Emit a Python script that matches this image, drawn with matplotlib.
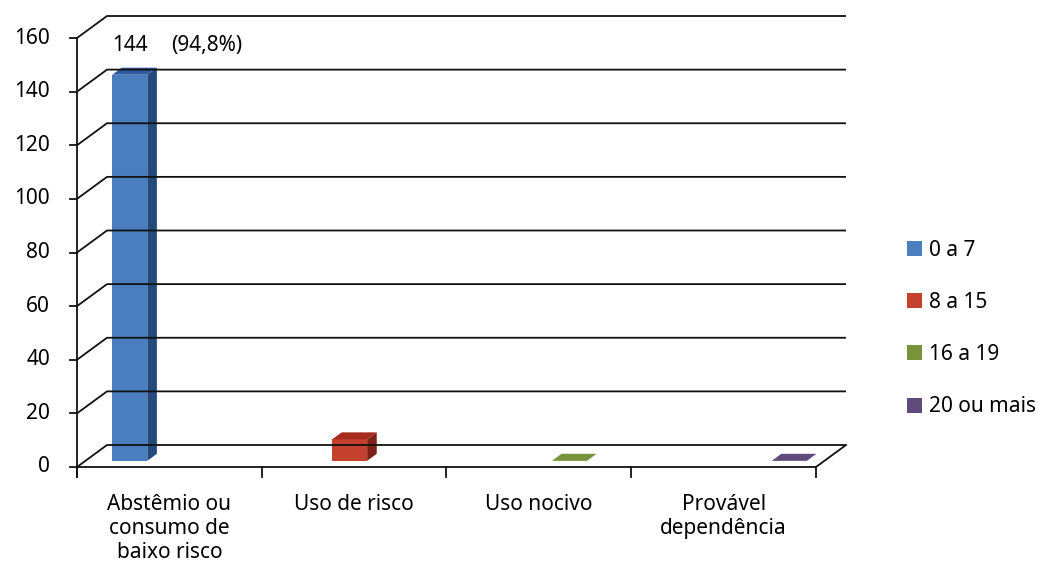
import matplotlib
matplotlib.use("Agg")
import matplotlib.pyplot as plt
from matplotlib.patches import Patch

plt.rcParams['font.family'] = ['Noto Sans', 'DejaVu Sans']

categories = ["Abstêmio ou\nconsumo de\nbaixo risco", "Uso de risco", "Uso nocivo", "Provável\ndependência"]
series_names = ["0 a 7", "8 a 15", "16 a 19", "20 ou mais"]
# one series carries a value in each category, the rest are blank
bar_values = [144, 8, 0, 0]
bar_series = [0, 1, 2, 3]
yticks = [0, 20, 40, 60, 80, 100, 120, 140, 160]
pct_label = "(94,8%)"

# front / top / side shades per series
front_cols = ["#4a7ebe", "#c5402d", "#77933c", "#604a7b"]
top_cols = ["#2f5a9e", "#a32c1e", "#77933c", "#604a7b"]
side_cols = ["#244a7c", "#7c2216", "#5a7030", "#4a3960"]

W, H = 1041, 565
PX_X = 184.75       # pixels per category
PX_Y = 429 / 160    # pixels per value unit
X0, Y0 = 77, 467    # front origin in pixels
DX = 30 / PX_X      # depth offset in data units
DY = 22 / PX_Y
FS = 15

fig = plt.figure(figsize=(W / 100, H / 100), dpi=100)
ax = fig.add_axes([0, 0, 1, 1])
ax.set_xlim(-X0 / PX_X, (W - X0) / PX_X)
ax.set_ylim(-(H - Y0) / PX_Y, Y0 / PX_Y)
ax.axis('off')


def p(x, y, z):
    return (x + z * DX, y + z * DY)


lc = '#111111'
lw = 1.3
ncat = len(categories)

# side wall + back wall gridlines
for t in yticks:
    a, b, c = p(0, t, 0), p(0, t, 1), p(ncat, t, 1)
    ax.plot([a[0], b[0], c[0]], [a[1], b[1], c[1]], color=lc, lw=lw, solid_capstyle='butt')
# floor front edge and right edge
a, b, c = p(0, 0, 0), p(ncat, 0, 0), p(ncat, 0, 1)
ax.plot([a[0], b[0], c[0]], [a[1], b[1], c[1]], color=lc, lw=lw)
# vertical axis
ax.plot([0, 0], [-10 / PX_Y, yticks[-1]], color=lc, lw=lw)
for t in yticks:
    ax.plot([-7 / PX_X, 0], [t, t], color=lc, lw=lw)
    ax.text(-27 / PX_X, t, str(t), ha='right', va='center', fontsize=FS)
for i in range(ncat + 1):
    ax.plot([i, i], [0, -10 / PX_Y], color=lc, lw=lw)
for i, lab in enumerate(categories):
    ax.text(i + 0.5, -27 / PX_Y, lab, ha='center', va='top', fontsize=FS, linespacing=1.2)

# 3d columns
w = 0.19
gap = (1 - 4 * w) / 2 + 0.025
z0, z1 = 0.28, 0.6
for i, (v, s) in enumerate(zip(bar_values, bar_series)):
    x0 = i + gap + s * w
    x1 = x0 + w
    top = [p(x0, v, z0), p(x1, v, z0), p(x1, v, z1), p(x0, v, z1)]
    if v > 0:
        front = [p(x0, 0, z0), p(x1, 0, z0), p(x1, v, z0), p(x0, v, z0)]
        side = [p(x1, 0, z0), p(x1, 0, z1), p(x1, v, z1), p(x1, v, z0)]
        ax.fill(*zip(*side), color=side_cols[s], lw=0)
        ax.fill(*zip(*front), color=front_cols[s], lw=0)
    ax.fill(*zip(*top), color=top_cols[s], lw=0)

# value label on the tallest column
lx, ly = p(gap, bar_values[0], z0)
ax.text(lx, ly + 29 / PX_Y, f"{bar_values[0]}", ha='left', va='center', fontsize=FS)
ax.text(lx + 59 / PX_X, ly + 29 / PX_Y, pct_label, ha='left', va='center', fontsize=FS)

handles = [Patch(facecolor=c, edgecolor='none') for c in front_cols]
ax.legend(handles, series_names, loc='center left', bbox_to_anchor=(907 / W, 1 - 328.5 / H),
          bbox_transform=fig.transFigure, frameon=False, fontsize=FS, borderpad=0,
          borderaxespad=0, handlelength=0.72, handleheight=0.72, handletextpad=0.35,
          labelspacing=1.5)

fig.savefig("out.png", dpi=100)
